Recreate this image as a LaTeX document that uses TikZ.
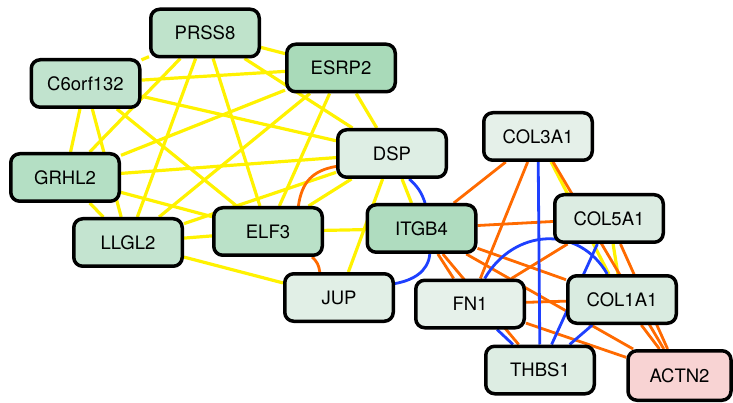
\documentclass[tikz,border=0pt]{standalone}
\usepackage{fontspec}
\setmainfont{TeX Gyre Heros}
\usetikzlibrary{backgrounds}
\definecolor{eyellow}{HTML}{FFF200}
\definecolor{eorange}{HTML}{FF6A00}
\definecolor{eblue}{HTML}{1E40FF}
\definecolor{cPRSS}{HTML}{BFE3CB}
\definecolor{cC6}{HTML}{C1E3CE}
\definecolor{cESRP}{HTML}{A9DAB9}
\definecolor{cGRHL}{HTML}{B4DFC4}
\definecolor{cLLGL}{HTML}{C4E4D0}
\definecolor{cELF}{HTML}{BAE1C8}
\definecolor{cDSP}{HTML}{DEEEE4}
\definecolor{cITGB}{HTML}{AFDCBF}
\definecolor{cJUP}{HTML}{E1EFE6}
\definecolor{cCOLiii}{HTML}{E5F0E9}
\definecolor{cCOLv}{HTML}{DCECE2}
\definecolor{cFN}{HTML}{E6F1EA}
\definecolor{cCOLi}{HTML}{D9EBE0}
\definecolor{cTHBS}{HTML}{DDEDE3}
\definecolor{cACTN}{HTML}{F8D3D3}
\begin{document}
\begin{tikzpicture}[x=1pt,y=1pt,
  gene/.style={draw=black, line width=3.5pt, rounded corners=9pt,
    minimum width=108.5pt, minimum height=47.5pt, inner sep=0pt,
    font=\fontsize{18.5}{20}\selectfont},
  ey/.style={draw=eyellow, line width=3.2pt},
  eo/.style={draw=eorange, line width=2.8pt},
  eb/.style={draw=eblue, line width=2.8pt}]
\useasboundingbox (0,0) rectangle (733,-403);
\node[gene, fill=cPRSS] (P) at (205,-33) {PRSS8};
\node[gene, fill=cC6] (C) at (85.5,-83.5) {C6orf132};
\node[gene, fill=cESRP] (E) at (341,-68) {ESRP2};
\node[gene, fill=cGRHL] (G) at (65,-177.5) {GRHL2};
\node[gene, fill=cDSP] (D) at (392,-153.5) {DSP};
\node[gene, fill=cLLGL] (L) at (128,-242.5) {LLGL2};
\node[gene, fill=cELF] (F) at (268,-231.5) {ELF3};
\node[gene, fill=cITGB] (I) at (421.5,-228.5) {ITGB4};
\node[gene, fill=cJUP] (J) at (339,-297.5) {JUP};
\node[gene, fill=cCOLiii] (CA) at (538,-136.5) {COL3A1};
\node[gene, fill=cCOLv] (CB) at (609,-218.5) {COL5A1};
\node[gene, fill=cFN] (FN) at (470,-304) {FN1};
\node[gene, fill=cCOLi] (CC) at (622,-299.5) {COL1A1};
\node[gene, fill=cTHBS] (T) at (540,-370) {THBS1};
\node[gene, fill=cACTN, minimum width=103pt, minimum height=49.5pt] (A) at (679.5,-375.5) {ACTN2};
\begin{pgfonlayer}{background}
% yellow
\foreach \a/\b in {P/C,P/E,P/G,P/L,P/F,P/D,C/E,C/D,C/G,C/L,C/F,E/G,E/L,E/F,E/D,G/D,G/L,G/F,L/D,L/F,L/J,F/D,F/I,D/I,D/J,CA/CC,CB/CC}
  \draw[ey] (\a) -- (\b);
% orange
\foreach \a/\b in {I/CA,I/CB,I/FN,I/T,I/CC,I/A,FN/CA,FN/CB,FN/CC,FN/A,CA/A,CB/A,CC/A}
  \draw[eo] (\a) -- (\b);
\draw[eo] (F.40) .. controls +(82:24) and +(190:24) .. (D.193);
\draw[eo] (F.330) to[bend left=20] (J.127);
% blue
\foreach \a/\b in {CA/T,FN/T,CB/T,CC/T}
  \draw[eb] (\a) -- (\b);
\draw[eb] (D.304) to[bend left=15] (I.82);
\draw[eb] (J.14) to[out=10,in=-95] (I.288);
\draw[eb] (FN.60) to[out=60,in=120,looseness=1.2] (CC.120);
\end{pgfonlayer}
\end{tikzpicture}
\end{document}
